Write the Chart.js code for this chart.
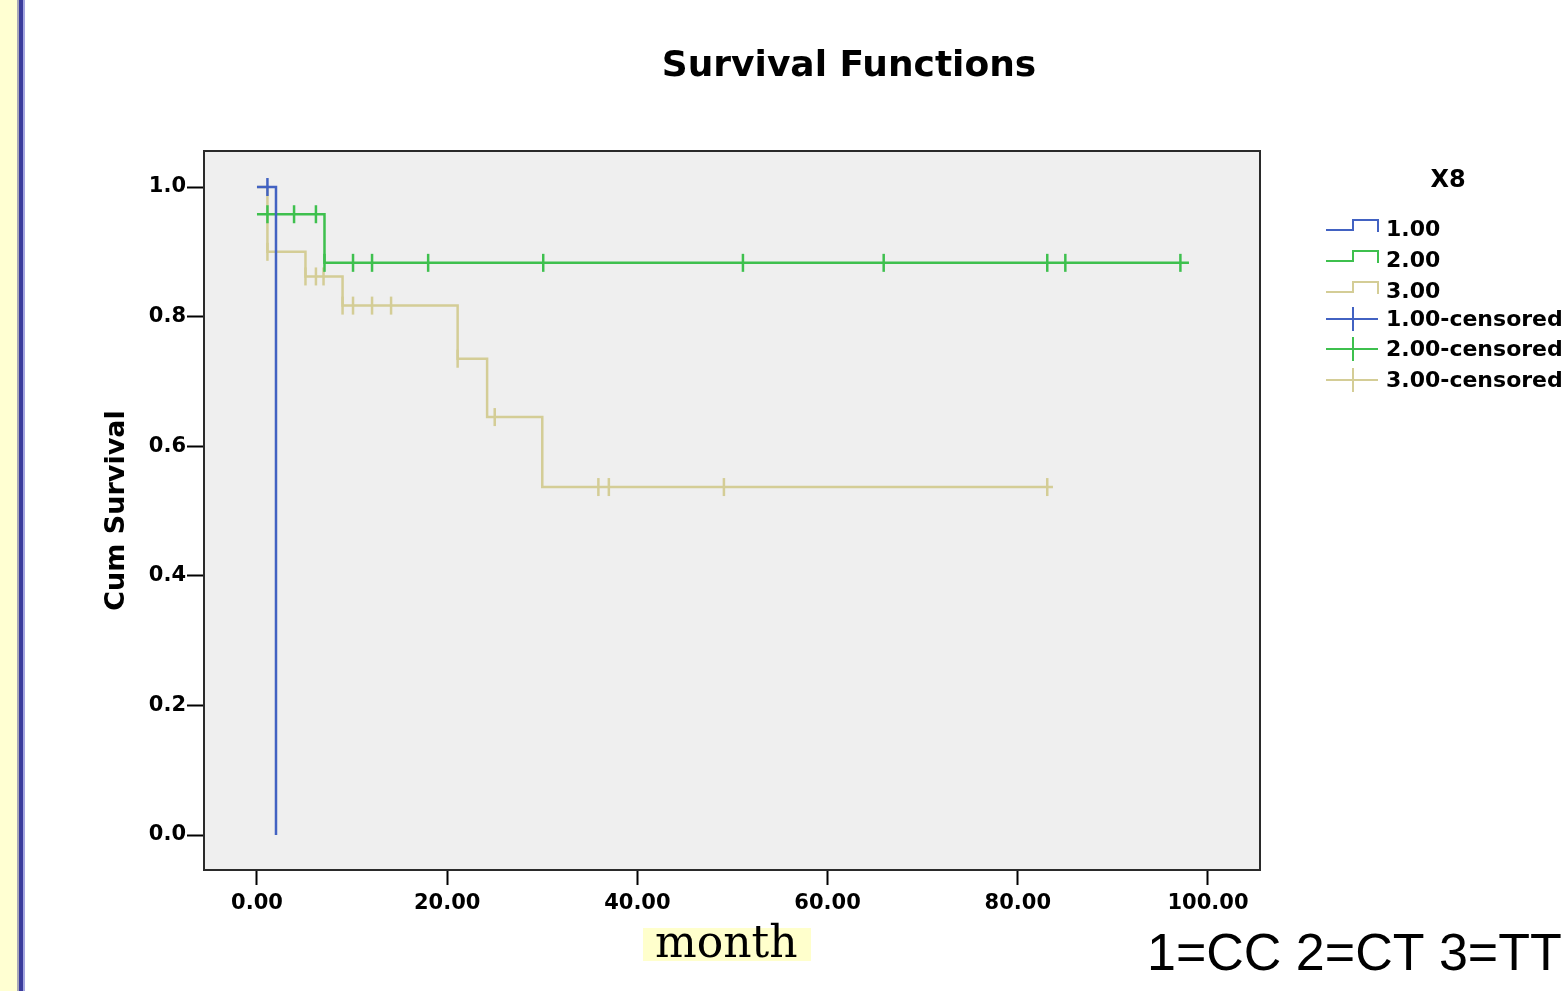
<!DOCTYPE html>
<html>
<head>
<meta charset="utf-8">
<script src="https://cdn.jsdelivr.net/npm/chart.js@4/dist/chart.umd.min.js"></script>
<style>
  body { margin: 0; background: #fff; }
  #wrap { position: relative; width: 1566px; height: 991px; }
</style>
</head>
<body>
<div id="wrap"><canvas id="chart" width="1566" height="991"></canvas></div>
<script>
// Kaplan-Meier steps (month, cum survival)
const blueTime = [0, 2.0];
const blueSurv = [1.0, 0.0];
const greenTime = [0, 7.1, 98.0];
const greenSurv = [0.958, 0.883, 0.883];
const tanTime = [0, 1.1, 5.1, 9.0, 21.1, 24.2, 30.0, 83.7];
const tanSurv = [1.0, 0.9, 0.862, 0.817, 0.735, 0.645, 0.537, 0.537];

// censored cases
const blueCensT = [1.1];
const blueCensS = [1.0];
const greenCensT = [1.1, 3.9, 6.2, 7.1, 10.1, 12.1, 18.0, 30.1, 51.1, 65.9, 83.1, 85.0, 97.1];
const greenCensS = [0.958, 0.958, 0.958, 0.883, 0.883, 0.883, 0.883, 0.883, 0.883, 0.883, 0.883, 0.883, 0.883];
const tanCensT = [1.1, 5.1, 6.2, 7.0, 9.0, 10.1, 12.1, 14.1, 21.1, 25.0, 35.9, 37.0, 49.1, 83.1];
const tanCensS = [0.9, 0.862, 0.862, 0.862, 0.817, 0.817, 0.817, 0.817, 0.735, 0.645, 0.537, 0.537, 0.537, 0.537];

const xTicks = [0, 20, 40, 60, 80, 100];
const yTicks = [0, 0.2, 0.4, 0.6, 0.8, 1.0];
const groupNames = ["1.00", "2.00", "3.00"];

const BLUE = "#4262c2";
const GREEN = "#3ec04e";
const TAN = "#d4cd96";

const pts = (xs, ys) => xs.map((x, i) => ({ x: x, y: ys[i] }));

function stepSet(label, xs, ys, color, order) {
  return {
    label: label, data: pts(xs, ys), showLine: true, stepped: true,
    borderColor: color, borderWidth: 2.5, pointRadius: 0, order: order
  };
}
function censSet(label, xs, ys, color, order) {
  return {
    label: label, data: pts(xs, ys), showLine: false,
    pointStyle: "line", rotation: 90, pointRadius: 9, pointHoverRadius: 9,
    pointBorderColor: color, pointBorderWidth: 2.5, borderColor: color, order: order
  };
}

const decor = {
  id: "decor",
  beforeDraw(chart) {
    const ctx = chart.ctx, a = chart.chartArea;
    ctx.save();
    // page strip on the left
    ctx.fillStyle = "#ffffd2"; ctx.fillRect(0, 0, 17, 991);
    ctx.fillStyle = "#a8a8b8"; ctx.fillRect(17, 0, 2, 991);
    ctx.fillStyle = "#3a3c9c"; ctx.fillRect(19, 0, 4, 991);
    ctx.fillStyle = "#a4a6e0"; ctx.fillRect(23, 0, 2, 991);
    ctx.fillStyle = "#efefef";
    ctx.fillRect(a.left, a.top, a.right - a.left, a.bottom - a.top);
    ctx.restore();
  },
  beforeDatasetsDraw(chart) {
    const ctx = chart.ctx, a = chart.chartArea;
    ctx.save();
    ctx.strokeStyle = "#2a2a2a"; ctx.lineWidth = 2;
    ctx.strokeRect(a.left, a.top, a.right - a.left, a.bottom - a.top);
    ctx.restore();
  },
  afterDraw(chart) {
    const ctx = chart.ctx;
    ctx.save();
    ctx.fillStyle = "#000";
    ctx.textBaseline = "middle";
    ctx.textAlign = "center";
    ctx.font = "bold 36px 'DejaVu Sans'";
    ctx.fillText("Survival Functions", 849, 67);

    // legend
    ctx.font = "bold 24px 'DejaVu Sans'";
    ctx.fillText("X8", 1448, 181);
    ctx.textAlign = "left";
    ctx.font = "bold 22px 'DejaVu Sans'";
    const cols = [BLUE, GREEN, TAN];
    const stepY = [230, 261, 292];
    const censY = [319, 349, 380];
    ctx.lineWidth = 2;
    for (let i = 0; i < 3; i++) {
      const y = stepY[i];
      ctx.strokeStyle = cols[i];
      ctx.beginPath();
      ctx.moveTo(1326, y); ctx.lineTo(1353, y); ctx.lineTo(1353, y - 10);
      ctx.lineTo(1378, y - 10); ctx.lineTo(1378, y + 2);
      ctx.stroke();
      ctx.fillText(groupNames[i], 1386, y);
      const c = censY[i];
      ctx.beginPath();
      ctx.moveTo(1326, c); ctx.lineTo(1378, c);
      ctx.moveTo(1353, c - 12); ctx.lineTo(1353, c + 12);
      ctx.stroke();
      ctx.fillText(groupNames[i] + "-censored", 1386, c + 1);
    }

    // axis caption with highlight
    ctx.fillStyle = "#ffffcc";
    ctx.fillRect(643, 928, 168, 33);
    ctx.fillStyle = "#000";
    ctx.textBaseline = "alphabetic";
    ctx.font = "44px 'DejaVu Serif'";
    ctx.fillText("month", 655, 957);
    ctx.font = "52px 'Liberation Sans'";
    ctx.fillText("1=CC 2=CT 3=TT", 1147, 970);
    ctx.restore();
  }
};

const tickFont = { family: "DejaVu Sans", size: 21, weight: "bold" };

new Chart(document.getElementById("chart"), {
  type: "scatter",
  data: {
    datasets: [
      stepSet("1.00", blueTime, blueSurv, BLUE, 1),
      stepSet("2.00", greenTime, greenSurv, GREEN, 3),
      stepSet("3.00", tanTime, tanSurv, TAN, 5),
      censSet("1.00-censored", blueCensT, blueCensS, BLUE, 0),
      censSet("2.00-censored", greenCensT, greenCensS, GREEN, 2),
      censSet("3.00-censored", tanCensT, tanCensS, TAN, 4)
    ]
  },
  options: {
    responsive: false,
    animation: false,
    devicePixelRatio: 1,
    layout: { padding: { left: 101, right: 306, top: 151, bottom: 0 } },
    plugins: { legend: { display: false }, title: { display: false }, tooltip: { enabled: false } },
    scales: {
      x: {
        type: "linear", min: -5.57, max: 105.47,
        afterBuildTicks: s => { s.ticks = xTicks.map(v => ({ value: v })); },
        afterFit: s => { s.height = 121; },
        grid: { drawOnChartArea: false, drawTicks: true, tickLength: 15, tickWidth: 2, tickColor: "#000" },
        border: { display: false },
        ticks: { color: "#000", font: tickFont, padding: 6, maxRotation: 0, callback: v => v.toFixed(2) }
      },
      y: {
        type: "linear", min: -0.054, max: 1.0556,
        afterBuildTicks: s => { s.ticks = yTicks.map(v => ({ value: v })); },
        afterFit: s => { s.width = 103; },
        grid: { drawOnChartArea: false, drawTicks: true, tickLength: 17, tickWidth: 2, tickColor: "#000" },
        border: { display: false },
        ticks: { color: "#000", font: tickFont, padding: 1, callback: v => v.toFixed(1) },
        title: {
          display: true, text: "Cum Survival", color: "#000", padding: 0,
          font: { family: "DejaVu Sans", size: 27, weight: "bold" }
        }
      }
    }
  },
  plugins: [decor]
});
</script>
</body>
</html>
